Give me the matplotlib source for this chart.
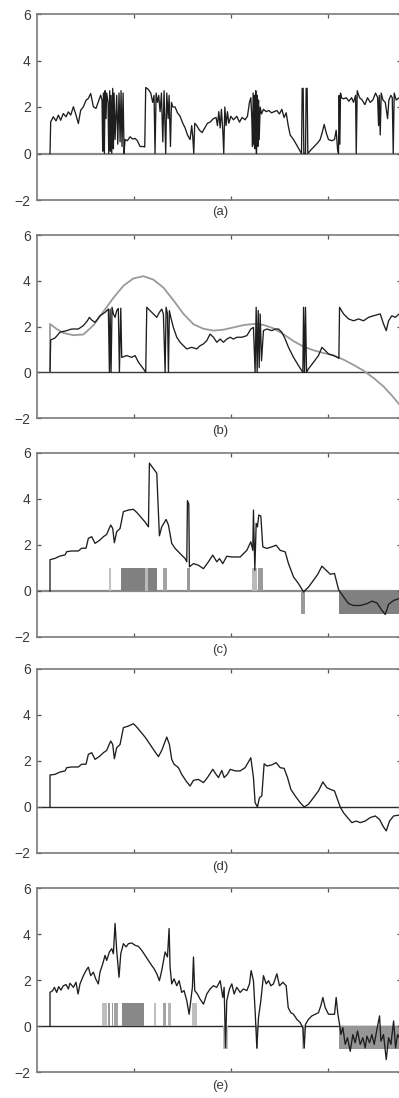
import matplotlib
matplotlib.use("Agg")
import matplotlib.pyplot as plt
import numpy as np

plt.rcParams["font.family"] = ["Liberation Sans", "DejaVu Sans"]

# ---------------- data (time axis 0..375, ticks every 100) ----------------
panel_labels = ["(a)", "(b)", "(c)", "(d)", "(e)"]
y_ticks = [-2, 0, 2, 4, 6]
x_ticks = [100, 200, 300]

a_x = [13.4, 14.1, 16.8, 19.6, 22.0, 24.4, 27.1, 29.9, 32.3, 34.7, 37.5, 40.2, 42.6, 45.0, 47.8, 50.5, 52.9, 55.3, 58.1, 60.8, 63.2, 65.6, 67.0,
       67.7, 68.4, 69.4, 70.1, 71.1, 71.8, 73.2, 73.9, 74.9, 75.6, 76.3, 77.0, 78.0, 78.7, 79.4,
       80.4, 82.1, 83.2, 84.5, 85.6, 86.6, 87.6, 88.7, 89.7, 90.7, 93.1, 95.9, 98.6, 101.0, 103.4, 106.2, 109.6, 111.0,
       112.0, 114.8, 117.2, 119.2, 120.6, 121.6, 122.7, 124.1, 125.4, 126.8, 128.2, 129.6, 130.9, 132.0, 132.6, 133.7, 135.1, 136.1, 137.5, 138.5, 139.9, 142.3, 144.7, 147.4, 150.2, 152.6, 155.0, 157.7, 159.4, 160.5, 161.5, 162.5, 164.6, 167.4, 170.1, 172.9, 175.6, 178.3, 181.8, 184.5,
       185.9, 187.3, 188.7, 190.0, 191.4, 192.4, 193.5, 194.8, 196.2, 197.6, 199.7, 202.4, 205.8, 208.6, 211.3, 214.4, 216.8, 218.9, 220.3,
       221.3, 222.0, 222.7, 223.4, 224.1, 224.7, 225.4, 226.1, 226.8, 227.5, 228.2, 228.9, 229.9, 231.3, 233.3, 236.1, 238.8, 241.6, 244.3, 247.1, 249.8, 252.2, 254.6, 256.7, 258.8, 260.8, 264.3, 267.7, 270.4, 272.5,
       273.2, 274.2, 274.9, 276.6, 277.3, 278.3, 279.0, 282.1, 285.6, 289.0, 291.7, 293.8, 295.9, 297.9, 300.3, 303.8, 306.5, 308.2, 309.6, 310.6, 311.3, 312.0, 312.7, 313.7, 315.8, 318.6, 321.3, 324.1, 326.1, 328.2, 328.9, 329.9, 332.3, 335.0, 337.8, 340.5, 343.3, 346.0, 348.8, 350.9, 351.9, 352.6, 353.6, 354.6, 356.4, 358.8, 361.2, 362.5, 364.6, 366.0, 367.0, 368.0, 370.1, 373.2]
a_y = [0, 1.36, 1.58, 1.40, 1.65, 1.43, 1.72, 1.58, 1.79, 1.65, 2.01, 1.65, 1.29, 1.86, 2.01, 2.29, 2.37, 2.58, 2.01, 1.94, 2.22, 2.51, 2.30,
       0.10, 2.60, 0.00, 2.70, 1.50, 2.60, 2.20, 0.00, 2.70, 0.10, 2.50, 0.00, 2.80, 0.20, 2.60,
       0.60, 2.50, 0.40, 2.60, 0.50, 2.70, 0.30, 2.60, 0.00, 0.60, 0.55, 0.72, 0.62, 0.65, 0.55, 0.30, 0.30, 0.28,
       2.84, 2.75, 2.60, 2.20, 2.50, 0.00, 2.60, 2.20, 2.50, 1.80, 2.60, 0.50, 2.70, 1.00, 0.00, 2.60, 1.50, 2.50, 0.30, 2.20, 2.00, 2.00, 1.75, 1.60, 1.30, 1.10, 0.80, 0.60, 1.20, 0.70, 0.00, 1.30, 1.20, 1.00, 0.90, 1.10, 1.30, 1.35, 1.50, 1.55,
       1.20, 1.80, 1.10, 1.90, 1.00, 0.00, 2.00, 1.20, 1.80, 1.30, 1.60, 1.45, 1.60, 1.35, 1.55, 1.45, 1.60, 2.20, 2.40,
       1.50, 0.30, 2.60, 0.40, 2.50, 0.20, 2.70, 0.00, 2.50, 0.30, 2.30, 0.60, 2.00, 1.70, 1.90, 1.80, 1.85, 1.75, 1.80, 1.85, 1.70, 1.90, 1.55, 1.75, 1.20, 0.80, 0.60, 0.35, 0.15, 0.00,
       2.80, 2.80, 0.00, 0.00, 2.80, 2.80, 0.00, 0.15, 0.30, 0.45, 0.60, 0.90, 1.25, 0.90, 0.60, 0.55, 0.60, 1.00, 0.20, 0.00, 2.50, 0.40, 2.60, 2.40, 2.35, 2.40, 2.25, 2.40, 2.20, 2.50, 0.00, 2.70, 2.40, 2.30, 2.10, 2.40, 2.20, 2.30, 2.60, 2.40, 1.20, 2.50, 0.80, 2.60, 2.30, 2.20, 1.50, 2.30, 2.50, 2.40, 0.00, 2.60, 2.30, 2.40]

b_x = [13.4, 14.1, 18.6, 23.7, 30.6, 35.7, 42.6, 47.8, 51.9, 54.0, 56.4, 59.8, 64.9, 70.1, 73.5, 74.6, 75.3, 76.3, 77.3, 78.7, 80.4, 82.1, 83.8, 84.9, 86.3, 87.3, 92.4, 97.6, 101.0, 104.5, 109.6, 112.0, 113.1, 116.5, 119.9, 123.4, 126.1, 128.5, 130.2, 132.0, 133.0, 134.4, 135.4, 136.4, 137.8, 140.5, 144.0, 147.4, 150.9, 154.3, 159.4, 164.6, 168.0, 171.5, 174.9, 178.3, 181.8, 185.2, 188.7, 192.1, 195.5, 199.0, 202.4, 205.8, 211.0, 216.2, 220.3, 223.0, 224.7, 225.8, 226.8, 227.9, 228.9, 229.9, 231.3, 233.3, 236.8, 241.9, 245.4, 248.8, 252.2, 255.7, 259.1, 264.3, 269.4, 272.8, 273.9, 274.6, 275.6, 276.6, 277.7, 279.7, 284.9, 290.0, 293.5, 296.9, 300.3, 305.5, 309.6, 311.0, 311.7, 315.8, 321.0, 326.1, 331.3, 336.4, 341.6, 346.7, 353.6, 357.0, 359.8, 362.2, 365.6, 369.1, 373.2]
b_y = [0, 1.41, 1.50, 1.75, 1.82, 1.89, 1.89, 2.04, 2.25, 2.40, 2.28, 2.18, 2.47, 2.62, 2.76, 0, 2.76, 0, 2.84, 2.55, 2.40, 2.69, 2.79, 0, 2.80, 0.65, 0.73, 0.65, 0.73, 0.44, 0.15, 0, 2.84, 2.69, 2.55, 2.40, 2.62, 2.76, 2.55, 0, 2.84, 2.55, 0, 2.69, 2.40, 1.96, 1.53, 1.31, 1.16, 1.02, 1.09, 1.02, 1.16, 1.24, 1.38, 1.67, 1.53, 1.31, 1.45, 1.31, 1.45, 1.53, 1.45, 1.53, 1.53, 1.60, 1.89, 1.96, 0, 2.84, 0, 2.70, 0.20, 2.55, 0.50, 1.82, 1.89, 1.82, 1.89, 1.89, 1.75, 1.45, 1.09, 0.65, 0.29, 0.07, 0, 2.84, 0, 2.84, 0, 0.15, 0.44, 0.73, 1.09, 0.95, 0.80, 0.73, 0.65, 0.60, 2.84, 2.55, 2.33, 2.25, 2.33, 2.25, 2.40, 2.47, 2.55, 2.11, 1.82, 2.25, 2.47, 2.40, 2.55]
b_fit_x = [13.4, 13.4, 20.3, 27.1, 37.5, 47.8, 58.1, 68.4, 78.7, 89.0, 99.3, 109.6, 119.9, 130.2, 140.5, 150.9, 161.2, 171.5, 181.8, 192.1, 202.4, 212.7, 223.0, 233.3, 243.6, 254.0, 264.3, 274.6, 284.9, 295.2, 305.5, 315.8, 326.1, 336.4, 346.7, 357.0, 365.6, 373.2]
b_fit_y = [0, 2.11, 1.89, 1.72, 1.62, 1.65, 2.05, 2.65, 3.25, 3.78, 4.10, 4.20, 4.05, 3.70, 3.15, 2.55, 2.10, 1.90, 1.82, 1.86, 1.96, 2.06, 2.11, 2.07, 1.92, 1.66, 1.36, 1.12, 0.96, 0.84, 0.74, 0.55, 0.32, 0.07, -0.25, -0.62, -1.02, -1.40]

c_x = [13.4, 13.4, 18.6, 23.7, 28.9, 30.6, 35.7, 42.6, 46.0, 50.5, 52.9, 56.4, 59.8, 64.9, 68.4, 71.8, 75.9, 78.0, 79.7, 82.1, 85.6, 89.0, 94.2, 99.3, 102.7, 106.2, 111.3, 114.8, 115.8, 123.4, 126.1, 128.5, 133.0, 135.4, 138.8, 142.3, 147.4, 152.6, 154.3, 155.0, 156.4, 157.0, 161.2, 166.3, 171.5, 176.6, 181.1, 185.2, 188.0, 191.4, 195.5, 200.7, 209.3, 216.2, 220.3, 222.3, 223.0, 224.4, 225.8, 227.1, 228.5, 230.6, 232.6, 236.8, 241.9, 246.4, 250.5, 255.7, 259.1, 264.3, 269.4, 274.6, 279.7, 284.9, 289.3, 293.5, 297.9, 302.1, 306.5, 310.7, 315.8, 321.0, 326.1, 333.0, 339.9, 345.0, 350.2, 355.3, 358.8, 362.2, 367.4, 373.2]
c_y = [0, 1.36, 1.42, 1.52, 1.57, 1.71, 1.74, 1.74, 1.86, 1.86, 2.29, 2.36, 2.07, 2.22, 2.36, 2.46, 2.87, 2.72, 2.10, 2.58, 2.72, 3.45, 3.52, 3.55, 3.42, 3.25, 3.0, 2.79, 5.56, 5.12, 2.40, 2.79, 3.11, 2.87, 2.07, 1.85, 1.63, 1.41, 1.27, 3.93, 3.78, 1.05, 1.19, 1.12, 0.97, 1.27, 1.56, 1.27, 1.41, 1.19, 1.51, 1.48, 1.48, 1.77, 2.14, 1.77, 3.52, 0.90, 2.94, 2.79, 3.30, 3.26, 1.92, 1.85, 1.92, 1.99, 1.77, 1.70, 1.19, 0.61, 0.32, -0.04, 0.17, 0.47, 0.73, 1.08, 0.90, 0.73, 0.76, 0.06, -0.25, -0.55, -0.63, -0.63, -0.55, -0.44, -0.52, -0.84, -1.02, -0.58, -0.41, -0.33]
c_bar_start = [74.2, 86.6, 111.3, 114.8, 130.2, 154.3, 222.0, 227.5, 272.2, 310.7]
c_bar_end = [76.3, 111.3, 114.8, 123.4, 134.0, 157.7, 226.5, 233.3, 276.3, 376.0]
c_bar_sign = [1, 1, 1, 1, 1, 1, 1, 1, -1, -1]
c_bar_weight = [0.25, 1.0, 0.35, 1.0, 0.6, 0.7, 0.35, 0.7, 0.7, 1.0]

d_x = [13.4, 13.4, 18.6, 23.7, 28.9, 30.6, 35.7, 42.6, 46.0, 50.5, 52.9, 56.4, 59.8, 64.9, 68.4, 71.8, 75.9, 78.0, 79.7, 82.1, 85.6, 89.0, 94.2, 99.3, 102.7, 106.2, 111.3, 116.5, 120.6, 125.1, 128.5, 133.7, 136.4, 138.8, 141.2, 145.7, 149.1, 153.6, 157.7, 161.2, 166.3, 171.5, 175.6, 181.1, 184.5, 186.9, 190.4, 192.8, 196.2, 199.0, 204.1, 209.3, 214.4, 220.3, 223.0, 224.7, 227.1, 229.2, 231.6, 234.0, 236.8, 241.9, 246.4, 250.5, 254.6, 258.1, 261.5, 266.0, 271.1, 275.3, 279.7, 284.9, 290.0, 294.5, 298.6, 302.1, 306.5, 309.6, 312.4, 315.8, 319.9, 324.4, 328.9, 333.0, 338.1, 343.3, 348.5, 352.9, 356.4, 359.8, 363.2, 367.4, 373.2]
d_y = [0, 1.39, 1.42, 1.52, 1.57, 1.71, 1.74, 1.74, 1.86, 1.86, 2.29, 2.36, 2.07, 2.22, 2.36, 2.46, 2.87, 2.72, 2.10, 2.58, 2.72, 3.45, 3.52, 3.62, 3.48, 3.30, 3.04, 2.72, 2.46, 2.19, 2.46, 3.04, 2.72, 2.07, 1.86, 1.71, 1.42, 1.13, 0.91, 1.16, 1.20, 1.06, 1.28, 1.64, 1.42, 1.28, 1.59, 1.28, 1.42, 1.64, 1.57, 1.57, 1.71, 2.14, 1.28, 0.19, 0, 0.41, 0.48, 1.88, 1.78, 1.83, 1.93, 1.71, 1.68, 1.28, 0.77, 0.48, 0.19, 0, 0.12, 0.41, 0.70, 1.09, 0.84, 0.77, 0.70, 0.33, 0, -0.25, -0.46, -0.68, -0.61, -0.68, -0.61, -0.46, -0.39, -0.54, -0.83, -1.04, -0.61, -0.39, -0.35]

e_x = [13.4, 13.4, 16.2, 17.9, 20.3, 22.3, 24.7, 27.1, 29.9, 32.3, 34.0, 37.5, 40.2, 42.3, 44.3, 47.8, 50.5, 52.9, 55.3, 58.1, 60.5, 63.2, 64.9, 67.7, 70.1, 71.8, 74.6, 77.0, 78.7, 80.4, 82.1, 84.5, 86.3, 89.0, 91.8, 94.2, 97.6, 101.0, 104.5, 107.9, 111.3, 114.8, 118.2, 120.6, 123.4, 126.1, 128.5, 132.0, 134.4, 136.1, 137.1, 138.8, 141.2, 144.0, 146.4, 149.1, 151.5, 154.3, 156.7, 158.4, 160.1, 161.2, 162.5, 165.3, 168.0, 171.5, 174.9, 178.3, 181.8, 185.2, 188.7, 191.4, 192.8, 194.2, 195.5, 198.3, 200.7, 203.1, 205.8, 209.3, 212.7, 216.2, 218.9, 220.6, 223.0, 224.7, 226.5, 228.2, 230.6, 233.3, 236.1, 238.5, 240.9, 243.6, 247.1, 249.8, 253.3, 256.7, 258.8, 261.5, 264.3, 267.7, 271.1, 273.9, 275.3, 276.6, 279.7, 283.2, 286.6, 290.0, 292.4, 294.5, 296.9, 300.3, 303.8, 306.5, 308.2, 310.0, 311.7, 313.1, 315.1, 317.5, 319.9, 322.7, 325.4, 327.8, 330.2, 333.0, 335.7, 338.1, 339.9, 342.6, 345.0, 347.4, 350.2, 352.9, 354.3, 357.0, 359.8, 362.2, 364.6, 367.4, 369.4, 371.5, 373.2]
e_y = [0, 1.46, 1.54, 1.68, 1.46, 1.71, 1.56, 1.75, 1.80, 1.61, 1.86, 1.68, 1.90, 1.39, 1.83, 2.19, 2.41, 2.56, 2.19, 2.34, 2.05, 1.83, 2.34, 2.70, 3.07, 2.85, 3.22, 3.36, 3.14, 4.46, 3.29, 2.12, 3.14, 3.58, 3.44, 3.58, 3.61, 3.51, 3.46, 3.29, 3.07, 2.85, 2.63, 2.49, 2.27, 1.97, 2.41, 3.22, 3.00, 4.24, 2.56, 1.83, 2.05, 1.75, 1.97, 1.46, 1.54, 1.10, 0.51, 1.10, 1.68, 3.00, 1.54, 1.39, 1.17, 0.95, 1.39, 1.61, 1.75, 1.68, 1.97, 1.24, 1.68, -0.95, 1.10, 1.61, 1.83, 1.39, 1.68, 1.46, 1.61, 1.54, 1.83, 2.41, 1.97, 0.66, -0.95, 0.37, 1.10, 2.19, 1.83, 1.97, 1.75, 1.83, 2.27, 1.75, 1.90, 1.75, 0.80, 0.58, 0.51, 0.29, 0.15, -0.07, -0.95, 0.07, 0.29, 0.44, 0.51, 0.58, 0.88, 1.24, 0.80, 0.51, 0.51, 0.51, 1.24, 0.51, 0.07, -0.37, -0.07, -0.80, -0.51, -1.10, -0.37, -0.73, -0.22, -0.80, -0.51, -0.95, -0.44, -0.73, -0.37, -0.80, -0.15, 0.44, -0.66, -0.37, -1.46, -0.51, -0.80, 0.22, -0.95, -0.37, -0.51]
e_bar_start = [66.7, 73.5, 77.6, 79.7, 87.9, 120.6, 130.2, 134.7, 159.5, 192.0, 225.5, 272.9, 310.7]
e_bar_end = [71.8, 75.3, 78.7, 83.2, 110.6, 122.4, 132.7, 138.1, 164.6, 196.6, 227.5, 276.3, 376.0]
e_bar_sign = [1, 1, 1, 1, 1, 1, 1, 1, 1, -1, -1, -1, -1]
e_bar_weight = [0.3, 0.7, 0.7, 0.6, 0.9, 0.3, 0.6, 0.4, 0.3, 0.3, 0.6, 0.35, 0.75]

for xs, ys in [(a_x, a_y), (b_x, b_y), (b_fit_x, b_fit_y), (c_x, c_y), (d_x, d_y), (e_x, e_y)]:
    assert len(xs) == len(ys), (len(xs), len(ys))

# ---------------- layout ----------------
W, H = 399, 1098
fig = plt.figure(figsize=(W / 100, H / 100), dpi=100)
tops = [14, 235, 453, 669, 888]
bottoms = [200, 418, 637, 853, 1072]
label_y = [212, 431, 650, 867, 1086]
left_px, right_px = 37, 401
zero_colors = ["#8a8a8a", "#3a3a3a", "#8a8a8a", "#2a2a2a", "#2a2a2a"]
zero_widths = [1.6, 1.0, 1.6, 1.0, 1.0]

def bar_color(w):
    g = 0.85 - 0.35 * w
    return (g, g, g)

axes = []
for i in range(5):
    ax = fig.add_axes([left_px / W, 1 - bottoms[i] / H,
                       (right_px - left_px) / W, (bottoms[i] - tops[i]) / H])
    ax.set_xlim(0, 375)
    ax.set_ylim(-2, 6)
    ax.set_xticks(x_ticks)
    ax.set_xticklabels([])
    ax.set_yticks(y_ticks)
    ax.set_yticklabels([str(t).replace("-", "\u2212") for t in y_ticks])
    ax.tick_params(direction="in", top=True, right=True, length=3, width=0.9,
                   labelsize=10, pad=4.5, color="#555555", labelcolor="#3a3a3a")
    for s in ax.spines.values():
        s.set_color("#7a7a7a")
        s.set_linewidth(1.2)
    ax.axhline(0, color=zero_colors[i], lw=zero_widths[i], zorder=1)
    fig.text(0.551, 1 - label_y[i] / H, panel_labels[i], ha="center", va="center",
             fontsize=9.5, color="#3a3a3a")
    axes.append(ax)

line_kw = dict(color="#1e1e1e", lw=0.95, zorder=3)

# (a)
axes[0].plot(a_x, a_y, **line_kw)

# (b)
axes[1].plot(b_fit_x, b_fit_y, color="#9a9a9a", lw=1.3, zorder=2)
axes[1].plot(b_x, b_y, **line_kw)

# (c)
for s, e, sg, w in zip(c_bar_start, c_bar_end, c_bar_sign, c_bar_weight):
    axes[2].bar(s, sg, width=e - s, align="edge", color=bar_color(w), lw=0, zorder=1.5)
axes[2].plot(c_x, c_y, **line_kw)

# (d)
axes[3].plot(d_x, d_y, **line_kw)

# (e)
for s, e, sg, w in zip(e_bar_start, e_bar_end, e_bar_sign, e_bar_weight):
    axes[4].bar(s, sg, width=e - s, align="edge", color=bar_color(w), lw=0, zorder=1.5)
axes[4].plot(e_x, e_y, **line_kw)

fig.savefig("out.png", dpi=100)
